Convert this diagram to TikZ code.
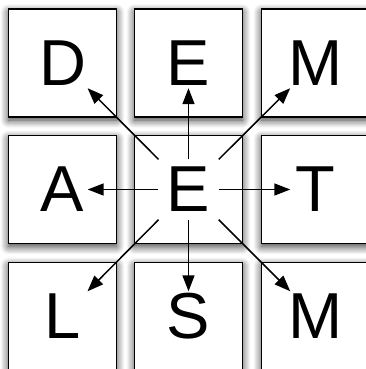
\documentclass[tikz,border=0pt]{standalone}
\usepackage{fontspec}
\setmainfont{Liberation Sans}
\usetikzlibrary{arrows.meta,shadows.blur}

\newcommand*{\letterfont}{\fontsize{65}{65}\selectfont}

\begin{document}
\begin{tikzpicture}
[
	x=1pt, y=-1pt,
	cell/.style={draw,fill=white,line width=1.3pt,minimum size=108pt,inner sep=0pt,
		blur shadow={shadow xshift=0pt,shadow yshift=-3pt,shadow blur radius=8pt,shadow blur steps=10,shadow opacity=80}},
	letter/.style={font=\letterfont,inner sep=0pt,minimum size=50pt},
	hub/.style={font=\letterfont,inner sep=0pt,minimum size=60pt},
	link/.style={-{Triangle[length=16pt,width=12pt]},line width=1.5pt}
]

	\useasboundingbox (0,0) rectangle (366,369);

	% boxes
	\foreach \x in {62.5,188.5,315.5}
		\foreach \y in {63,189.5,316.5}
			\node[cell] at (\x,\y) {};

	% letters
	\node[letter] (d) at (62.5,63) {D};
	\node[letter] (up) at (188.5,63) {E};
	\node[letter] (mtop) at (315.5,63) {M};
	\node[letter] (a) at (62.5,189.5) {A};
	\node[hub] (e) at (188.5,189.5) {E};
	\node[letter] (t) at (315.5,189.5) {T};
	\node[letter] (l) at (62.5,316.5) {L};
	\node[letter] (s) at (188.5,316.5) {S};
	\node[letter] (mbot) at (315.5,316.5) {M};

	% arrows out of the middle
	\foreach \target in {d,up,mtop,a,t,l,s,mbot}
		\draw[link] (e) -- (\target);

\end{tikzpicture}
\end{document}
